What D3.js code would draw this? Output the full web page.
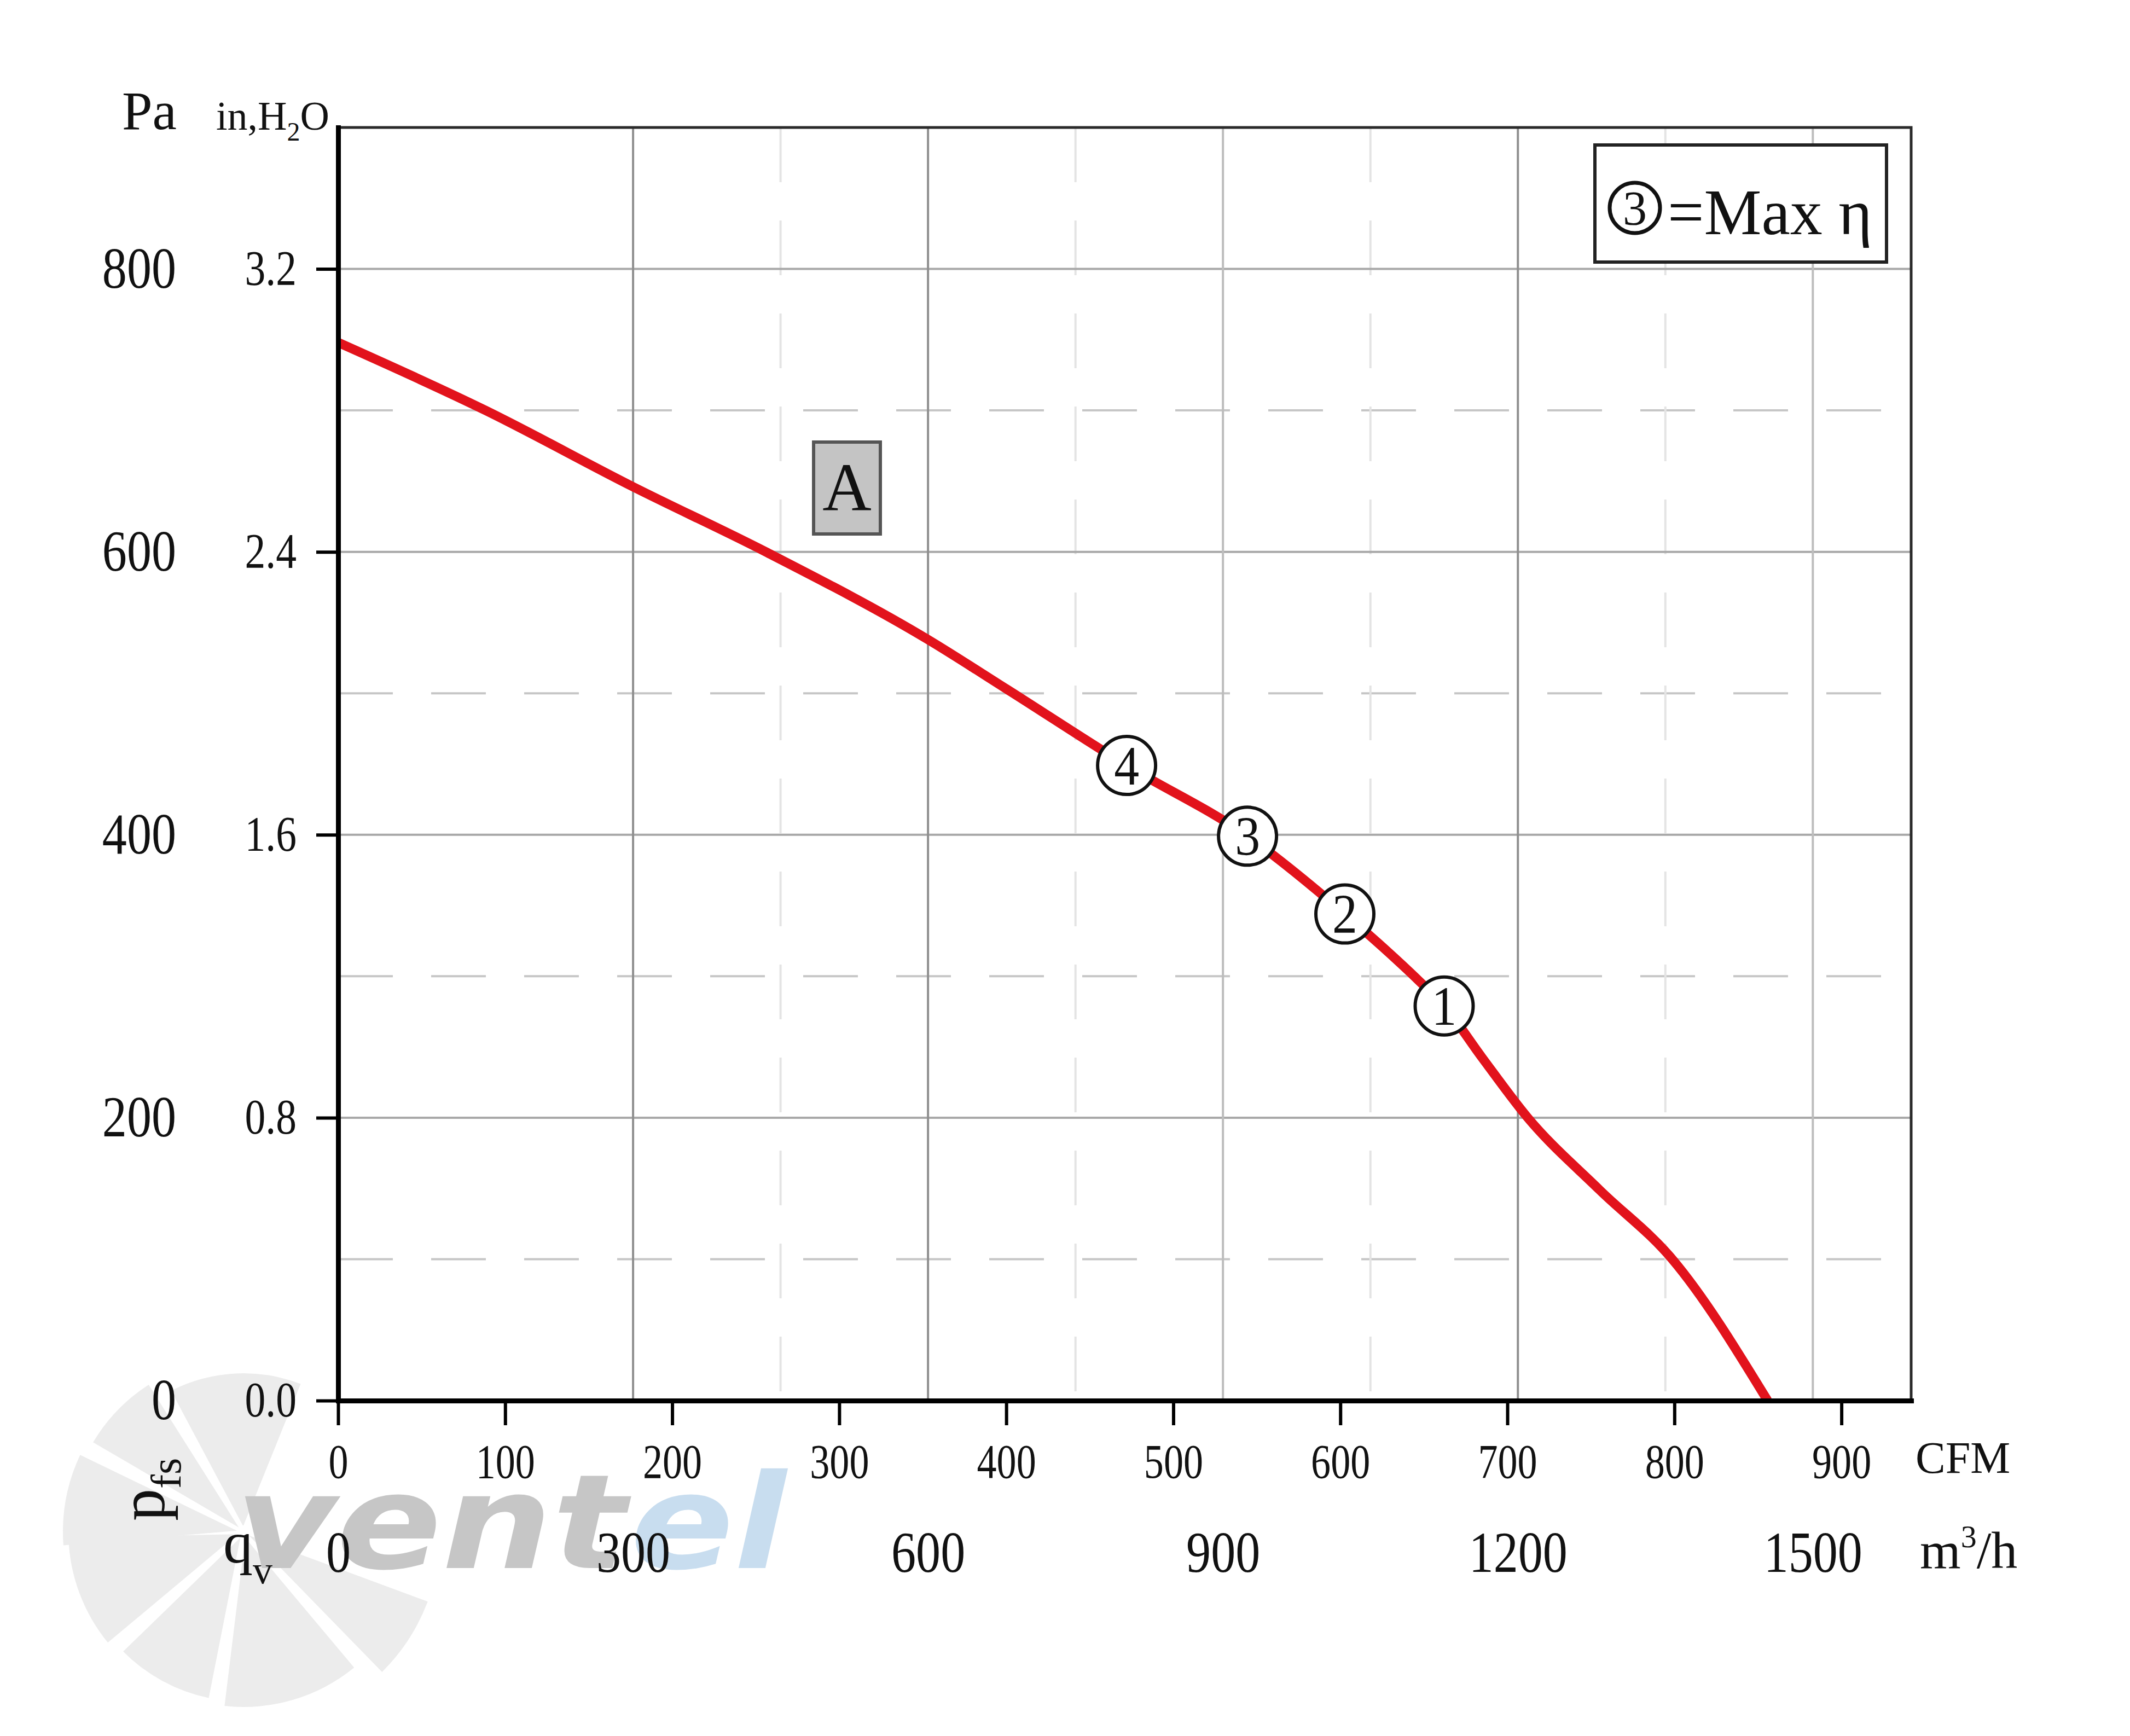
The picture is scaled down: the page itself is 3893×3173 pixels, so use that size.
<!DOCTYPE html>
<html>
<head>
<meta charset="utf-8">
<script src="https://cdn.jsdelivr.net/npm/d3@7"></script>
<style>
  html, body { margin: 0; padding: 0; background: #fff; }
  svg { display: block; }
</style>
</head>
<body>
<script>
// ---------- data ----------
const flowM3h    = [0, 150, 300, 435, 600, 680, 802, 925, 1024, 1099, 1125, 1163, 1210, 1283, 1357, 1454];
const pressurePa = [748, 700, 646, 600, 538, 503, 449, 399, 344, 297, 279, 243, 200, 149, 100, 0];

const markerLabels = ["1", "2", "3", "4"];
const markerFlow   = [1125, 1024, 925, 802];
const markerPa     = [279, 344, 399, 449];

const paTicks     = [0, 200, 400, 600, 800];
const inH2OTicks  = [0.0, 0.8, 1.6, 2.4, 3.2];
const cfmTicks    = [0, 100, 200, 300, 400, 500, 600, 700, 800, 900];
const m3hTicks    = [0, 300, 600, 900, 1200, 1500];
const gridMajorPa = [200, 400, 600, 800];
const gridMinorPa = [100, 300, 500, 700];
const gridMajorQ  = [300, 600, 900, 1200, 1500];
const gridMinorQ  = [450, 750, 1050, 1350];

const CFM_TO_M3H = 1.699;

// ---------- layout ----------
const W = 3893, H = 3173;
const L = 618, R = 3493, T = 233, B = 2560;
const SERIF = "'Liberation Serif', 'Times New Roman', serif";

const svg = d3.select("body").append("svg")
  .attr("width", W).attr("height", H)
  .attr("viewBox", `0 0 ${W} ${H}`);
svg.append("rect").attr("width", W).attr("height", H).attr("fill", "#fff");

const x   = d3.scaleLinear().domain([0, 1600]).range([L, R]);
const cfm = d3.scaleLinear().domain([0, 1600 / CFM_TO_M3H]).range([L, R]);
const y   = d3.scaleLinear().domain([0, 900]).range([B, T]);
const yIn = d3.scaleLinear().domain([0, 3.6]).range([B, T]);

// ---------- watermark (ventel logo) ----------
const wm = svg.append("g").attr("class", "watermark");
const fanC = [445, 2800];
// [start, end, outer radius] in screen degrees (0 = right, clockwise)
const blades = [[-118, -68, 290], [-150, -122, 320], [-185, -154, 330], [140, 179, 320], [101, 136, 310], [50, 97, 320], [20, 46, 360]];
const arc = d3.arc().innerRadius(12).padAngle(0.08).padRadius(110);
wm.selectAll("path.blade").data(blades).join("path")
  .attr("class", "blade")
  .attr("transform", `translate(${fanC[0]},${fanC[1]})`)
  .attr("d", d => arc({ outerRadius: d[2], startAngle: (d[0] + 90) * Math.PI / 180, endAngle: (d[1] + 90) * Math.PI / 180 }))
  .attr("fill", "#ececec");
wm.append("text")
  .attr("x", 430).attr("y", 2866)
  .attr("font-family", "'DejaVu Sans', sans-serif")
  .attr("font-weight", "bold").attr("font-style", "italic")
  .attr("font-size", 240)
  .attr("textLength", 715).attr("lengthAdjust", "spacingAndGlyphs")
  .attr("fill", "#c6c6c6").text("vent");
wm.append("text")
  .attr("x", 1152).attr("y", 2866)
  .attr("font-family", "'DejaVu Sans', sans-serif")
  .attr("font-weight", "bold").attr("font-style", "italic")
  .attr("font-size", 240)
  .attr("textLength", 285).attr("lengthAdjust", "spacingAndGlyphs")
  .attr("fill", "#c8ddef").text("el");

// ---------- grid ----------
const grid = svg.append("g").attr("class", "grid");
grid.selectAll("line.hmin").data(gridMinorPa).join("line")
  .attr("x1", L).attr("x2", R).attr("y1", d => y(d)).attr("y2", d => y(d))
  .attr("stroke", "#c6c6c6").attr("stroke-width", 4).attr("stroke-dasharray", "100 70");
grid.selectAll("line.vmin").data(gridMinorQ).join("line")
  .attr("y1", T).attr("y2", B).attr("x1", d => x(d)).attr("x2", d => x(d))
  .attr("stroke", "#e4e4e4").attr("stroke-width", 4).attr("stroke-dasharray", "100 70");
grid.selectAll("line.hmaj").data(gridMajorPa).join("line")
  .attr("x1", L).attr("x2", R).attr("y1", d => y(d)).attr("y2", d => y(d))
  .attr("stroke", "#a8a8a8").attr("stroke-width", 4);
grid.selectAll("line.vmaj").data(gridMajorQ).join("line")
  .attr("y1", T).attr("y2", B).attr("x1", d => x(d)).attr("x2", d => x(d))
  .attr("stroke", d => d >= 900 && d !== 1200 ? "#bdbdbd" : "#8f8f8f").attr("stroke-width", 4);

// frame top/right
svg.append("path")
  .attr("d", `M${L},${T}H${R}V${B}`)
  .attr("fill", "none").attr("stroke", "#2a2a2a").attr("stroke-width", 5);

// ---------- helpers ----------
function squeeze(sel, k) {
  sel.each(function () {
    const t = d3.select(this);
    const xx = +t.attr("x") || 0;
    t.attr("x", xx / k).attr("transform", `scale(${k},1)`);
  });
}
function styleAxis(g, fs, k) {
  g.attr("font-family", SERIF).attr("font-size", fs);
  g.selectAll("text").attr("fill", "#111");
  g.selectAll(".tick line").attr("stroke", "#000").attr("stroke-width", 6);
  g.selectAll(".domain").attr("stroke", "#000").attr("stroke-width", 9).attr("stroke-linecap", "square");
  squeeze(g.selectAll("text"), k);
}

// ---------- curve ----------
const pts = flowM3h.map((q, i) => ({ q, p: pressurePa[i] }));
const line = d3.line().x(d => x(d.q)).y(d => y(d.p)).curve(d3.curveMonotoneX);
svg.append("path").datum(pts)
  .attr("d", line)
  .attr("fill", "none").attr("stroke", "#e2131c").attr("stroke-width", 17)
  .attr("stroke-linejoin", "round").attr("stroke-linecap", "butt");

// ---------- axes ----------
const gIn = svg.append("g").attr("transform", `translate(${L},0)`)
  .call(d3.axisLeft(yIn).tickValues(inH2OTicks).tickSize(40).tickPadding(36).tickSizeOuter(0)
    .tickFormat(d3.format(".1f")));
styleAxis(gIn, 90, 0.84);

const gPa = svg.append("g").attr("transform", `translate(${L},0)`)
  .call(d3.axisLeft(y).tickValues(paTicks).tickSize(0).tickPadding(296).tickFormat(d3.format("d")));
gPa.select(".domain").remove();
styleAxis(gPa, 106, 0.85);

const gCfm = svg.append("g").attr("transform", `translate(0,${B})`)
  .call(d3.axisBottom(cfm).tickValues(cfmTicks).tickSize(45).tickPadding(34).tickSizeOuter(0)
    .tickFormat(d3.format("d")));
styleAxis(gCfm, 88, 0.82);

const gM3 = svg.append("g").attr("transform", `translate(0,${B})`)
  .call(d3.axisBottom(x).tickValues(m3hTicks).tickSize(0).tickPadding(238).tickFormat(d3.format("d")));
gM3.select(".domain").remove();
styleAxis(gM3, 106, 0.85);

// ---------- operating point markers ----------
const mk = svg.append("g").selectAll("g").data(markerLabels).join("g")
  .attr("transform", (d, i) => `translate(${x(markerFlow[i])},${y(markerPa[i])})`);
mk.append("circle").attr("r", 53).attr("fill", "#fff").attr("stroke", "#111").attr("stroke-width", 6);
mk.append("text").attr("text-anchor", "middle").attr("dy", "0.34em")
  .attr("font-family", SERIF).attr("font-size", 102).attr("fill", "#111")
  .attr("transform", "scale(0.9,1)")
  .text(d => d);

// ---------- legend box ----------
const lg = svg.append("g");
lg.append("rect").attr("x", 2915).attr("y", 265).attr("width", 533).attr("height", 214)
  .attr("fill", "#fff").attr("stroke", "#222").attr("stroke-width", 6);
lg.append("circle").attr("cx", 2988).attr("cy", 380).attr("r", 46)
  .attr("fill", "#fff").attr("stroke", "#111").attr("stroke-width", 7);
lg.append("text").attr("x", 2988).attr("y", 380).attr("dy", "0.34em").attr("text-anchor", "middle")
  .attr("font-family", SERIF).attr("font-size", 88).attr("fill", "#111").text("3");
lg.append("text").attr("x", 3048).attr("y", 428)
  .attr("font-family", SERIF).attr("font-size", 118).attr("fill", "#111").text("=Max η");

// ---------- "A" box ----------
svg.append("rect").attr("x", 1487).attr("y", 808).attr("width", 122).attr("height", 168)
  .attr("fill", "#c4c4c4").attr("stroke", "#555").attr("stroke-width", 6);
svg.append("text").attr("x", 1548).attr("y", 933).attr("text-anchor", "middle")
  .attr("font-family", SERIF).attr("font-size", 124).attr("fill", "#111").text("A");

// ---------- unit labels ----------
svg.append("text").attr("x", 223).attr("y", 236)
  .attr("font-family", SERIF).attr("font-size", 100).attr("fill", "#111").text("Pa");
const inL = svg.append("text").attr("x", 395).attr("y", 237)
  .attr("font-family", SERIF).attr("font-size", 74).attr("fill", "#111");
inL.append("tspan").text("in,H");
inL.append("tspan").attr("font-size", 48).attr("dy", 20).text("2");
inL.append("tspan").attr("dy", -20).text("O");

svg.append("text").attr("x", 3501).attr("y", 2692)
  .attr("font-family", SERIF).attr("font-size", 82).attr("fill", "#111").text("CFM");
const m3L = svg.append("text").attr("x", 3509).attr("y", 2866)
  .attr("font-family", SERIF).attr("font-size", 96).attr("fill", "#111");
m3L.append("tspan").text("m");
m3L.append("tspan").attr("font-size", 58).attr("dy", -38).text("3");
m3L.append("tspan").attr("dy", 38).text("/h");

const pL = svg.append("text").attr("transform", "translate(300,2780) rotate(-90)")
  .attr("font-family", SERIF).attr("font-size", 118).attr("fill", "#111");
pL.append("tspan").text("p");
pL.append("tspan").attr("font-size", 78).attr("dy", 30).text("fs");

const qL = svg.append("text").attr("x", 408).attr("y", 2856)
  .attr("font-family", SERIF).attr("font-size", 108).attr("fill", "#111");
qL.append("tspan").text("q");
qL.append("tspan").attr("font-size", 72).attr("dy", 38).text("v");
</script>
</body>
</html>
